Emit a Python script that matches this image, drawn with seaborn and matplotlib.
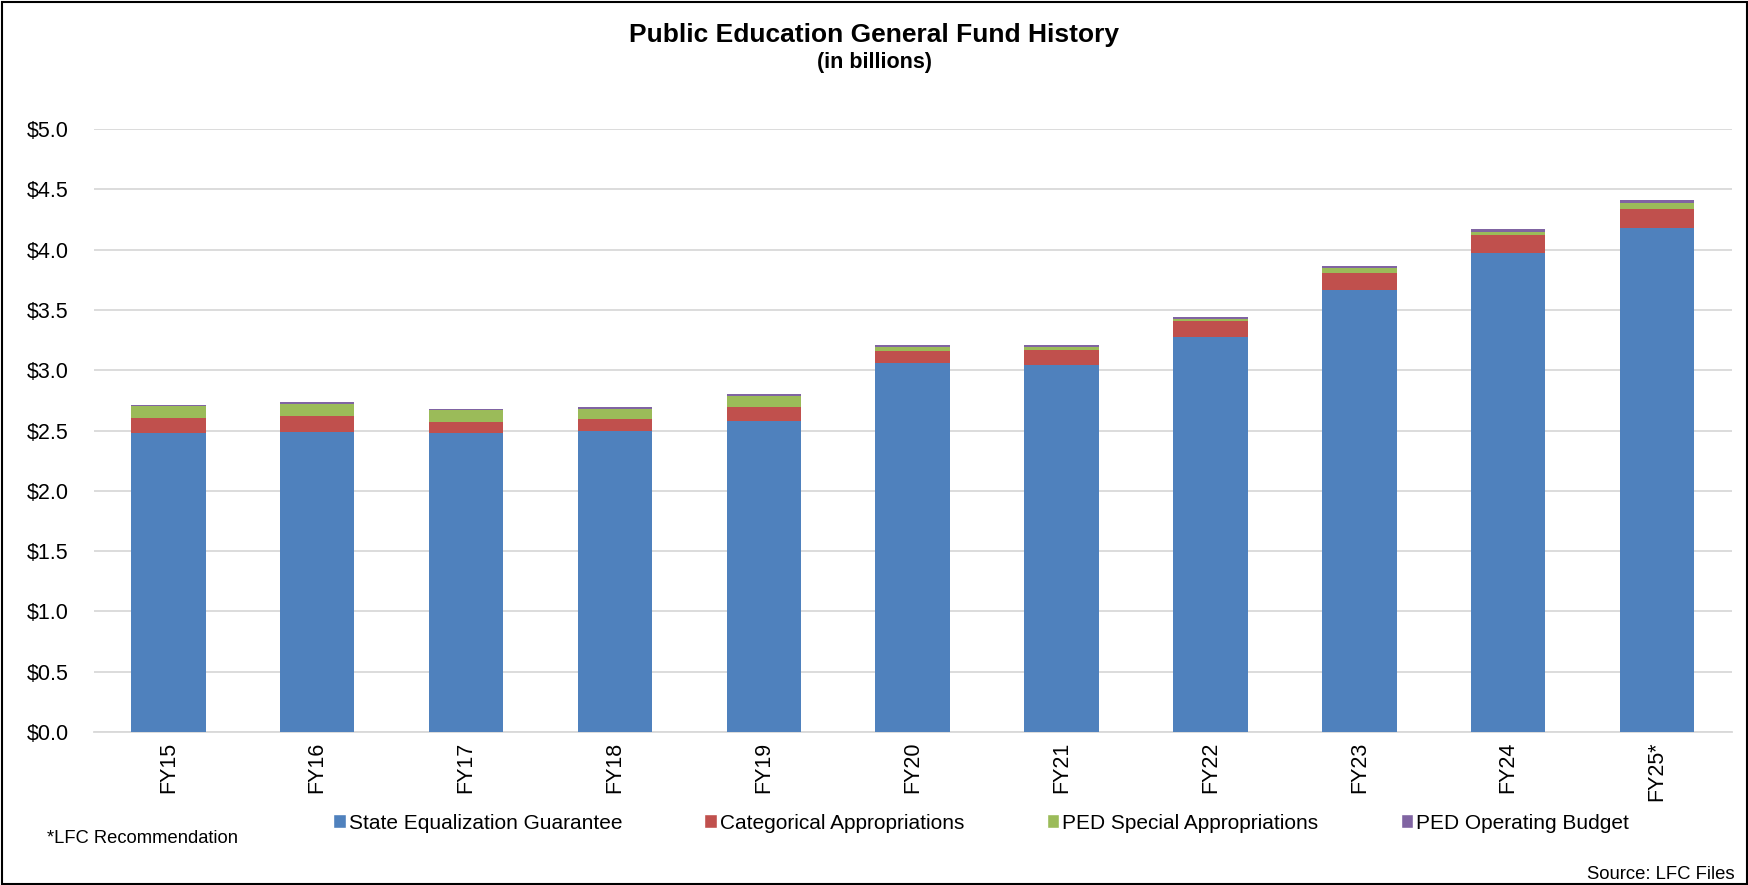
# Public Education General Fund History - barras apiladas
import pandas as pd
import matplotlib.pyplot as plt
import seaborn as sns
from matplotlib.patches import Rectangle, Patch

# Datos (miles de millones)
anios = ['FY15', 'FY16', 'FY17', 'FY18', 'FY19', 'FY20', 'FY21', 'FY22', 'FY23', 'FY24', 'FY25*']
seg = [2.48, 2.49, 2.48, 2.50, 2.58, 3.06, 3.04, 3.28, 3.67, 3.97, 4.18]
categorical = [0.125, 0.13, 0.095, 0.095, 0.115, 0.10, 0.125, 0.125, 0.14, 0.15, 0.16]
special = [0.095, 0.10, 0.095, 0.088, 0.094, 0.03, 0.03, 0.02, 0.04, 0.027, 0.048]
operating = [0.014, 0.017, 0.012, 0.012, 0.014, 0.017, 0.015, 0.014, 0.019, 0.025, 0.027]

series = ['State Equalization Guarantee', 'Categorical Appropriations',
          'PED Special Appropriations', 'PED Operating Budget']
colores = ['#4F81BD', '#C0504D', '#9BBB59', '#8064A2']

df = pd.DataFrame({'anio': anios, series[0]: seg, series[1]: categorical,
                   series[2]: special, series[3]: operating})
acum = df[series].cumsum(axis=1)

sns.set_style('white')
plt.rcParams['font.family'] = ['Liberation Sans', 'DejaVu Sans']
plt.rcParams['text.color'] = 'black'
plt.rcParams['xtick.color'] = 'black'
plt.rcParams['ytick.color'] = 'black'

fig = plt.figure(figsize=(17.49, 8.85), dpi=100)
ax = fig.add_axes([0.0537, 0.1729, 0.9363, 0.6811])

# apilar dibujando los acumulados de arriba hacia abajo
for s, c in reversed(list(zip(series, colores))):
    sns.barplot(x=df['anio'], y=acum[s], color=c, width=0.5, saturation=1,
                linewidth=0, ax=ax, zorder=3)

ax.set_ylim(0, 5)
ax.set_xlim(-0.5, len(anios) - 0.5)
ax.set_yticks([i * 0.5 for i in range(11)])
ax.set_yticklabels([f'${i * 0.5:.1f}' for i in range(11)], fontsize=15.5)
ax.set_xticks(range(len(anios)))
ax.set_xticklabels(anios, rotation=90, fontsize=15.5)
ax.tick_params(axis='both', length=0)
ax.tick_params(axis='y', pad=18)
ax.tick_params(axis='x', pad=7)
ax.set_xlabel('')
ax.set_ylabel('')
ax.grid(axis='y', color='#d9d9d9', linewidth=1.3, zorder=0)
ax.set_axisbelow(True)
for sp in ['top', 'right', 'left']:
    ax.spines[sp].set_visible(False)
ax.spines['bottom'].set_color('#d9d9d9')
ax.spines['bottom'].set_linewidth(1.3)

fig.text(0.5, 0.961, 'Public Education General Fund History', ha='center', va='center',
         fontsize=19, fontweight='bold')
fig.text(0.5, 0.929, '(in billions)', ha='center', va='center', fontsize=15.5, fontweight='bold')

handles = [Patch(facecolor=c, label=s) for s, c in zip(series, colores)]
fig.legend(handles=handles, loc='center', bbox_to_anchor=(0.561, 0.07), ncol=4,
           frameon=False, fontsize=15, handlelength=0.6, handleheight=0.65,
           handletextpad=0.15, columnspacing=3.95)

fig.text(0.027, 0.052, '*LFC Recommendation', ha='left', va='center', fontsize=13.2)
fig.text(0.992, 0.012, 'Source: LFC Files', ha='right', va='center', fontsize=13.3)

fig.patches.append(Rectangle((0.001, 0.001), 0.998, 0.997, transform=fig.transFigure,
                             fill=False, edgecolor='black', linewidth=1.5))

plt.savefig('out.png', dpi=100)
